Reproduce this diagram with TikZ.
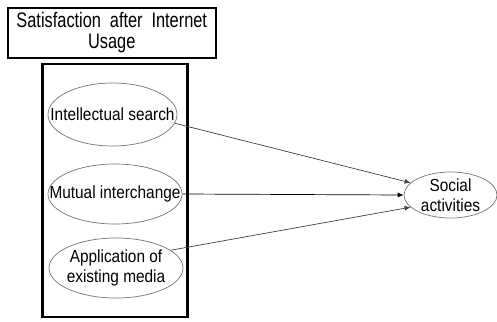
\documentclass[tikz,border=0pt]{standalone}
\usepackage{fontspec}
\setmainfont{Liberation Sans}
\newfontfamily\headfont[FakeStretch=0.78]{Liberation Sans}
\newfontfamily\ovalfont[FakeStretch=0.88]{Liberation Sans}
\usetikzlibrary{shapes.geometric,arrows.meta}
\begin{document}
\begin{tikzpicture}[x=1pt,y=-1pt,
  box/.style={draw=black,inner sep=0pt},
  oval/.style={ellipse,draw=black!55,line width=0.7pt,inner xsep=-30pt,inner ysep=-12pt,
    align=center,font=\ovalfont\fontsize{17.5}{20}\selectfont},
  link/.style={-{Latex[length=6pt,width=5pt]},line width=0.7pt}]
\useasboundingbox (0,0) rectangle (497,321);
% heading and the frame around the three factors
\node[box,line width=2.2pt,minimum width=208pt,minimum height=50pt,align=center,
      font=\headfont\fontsize{21}{21}\selectfont] (title) at (111.75,33)
  {\spaceskip=0.42em plus 0.1em Satisfaction after Internet\\Usage};
\node[box,line width=2.8pt,minimum width=145pt,minimum height=253pt] (frame) at (115,190.4) {};
% factors
\node[oval,minimum width=129pt,minimum height=63pt] (e1) at (112.5,114.5) {Intellectual search};
\node[oval,minimum width=134pt,minimum height=60pt] (e2) at (115,194) {Mutual interchange};
\node[oval,minimum width=134pt,minimum height=60pt] (e3) at (116,268) {Application of\\existing media};
% outcome
\node[oval,minimum width=93pt,minimum height=46pt] (soc) at (450.5,195) {Social\\activities};
% paths
\draw[link,draw=black!75] (e1.-8) -- (soc.163);
\draw[link] (e2.east) -- (soc.west);
\draw[link,draw=black!75] (e3.18) -- (soc.197);
\end{tikzpicture}
\end{document}
